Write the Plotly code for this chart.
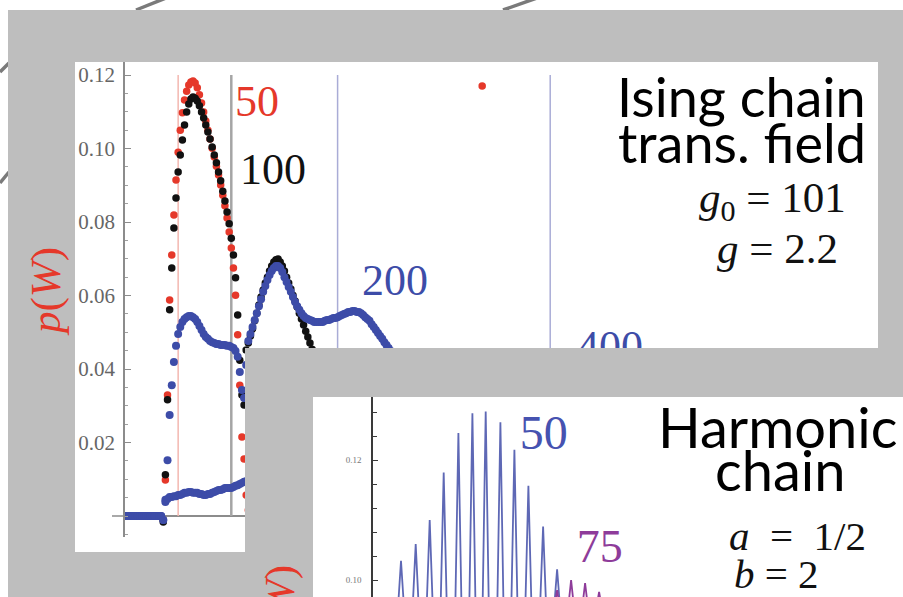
import plotly.graph_objects as go

# ---------------------------------------------------------------
# Work distribution p(W): Ising chain in a transverse field (top)
# and harmonic chain (bottom)
# ---------------------------------------------------------------

# Upper panel: W sampling points and p(W) for N = 50, 100, 200, 400
w_n50 = [36, 38, 40, 42, 44, 46, 48, 50, 52, 54, 56, 58, 60, 62, 64, 66, 68, 70,
         72, 74, 76, 78, 80, 82, 84, 86, 88, 90, 92, 94, 96, 98, 100, 102, 104,
         106, 108, 110, 112, 114, 116, 336]
p_n50 = [-0.0011, 0.0098, 0.0329, 0.0588, 0.0710, 0.0819, 0.0914, 0.0990, 0.1050,
         0.1097, 0.1132, 0.1156, 0.1173, 0.1181, 0.1184, 0.1178, 0.1165, 0.1146,
         0.1124, 0.1099, 0.1075, 0.1050, 0.1026, 0.1001, 0.0977, 0.0952, 0.0928,
         0.0901, 0.0873, 0.0844, 0.0811, 0.0773, 0.0729, 0.0675, 0.0601, 0.0493,
         0.0356, 0.0215, 0.0155, 0.0057, 0.0016, 0.1170]

w_n100 = [36, 38, 40, 42, 44, 46, 48, 50, 52, 54, 56, 58, 60, 62, 64, 66, 68, 70,
          72, 74, 76, 78, 80, 82, 84, 86, 88, 90, 92, 94, 96, 98, 100, 102, 104,
          106, 108, 110, 112, 114, 116, 118, 120, 122, 124, 126, 128, 130, 132,
          134, 136, 138, 140, 142, 144, 146, 148, 150, 152, 154, 156, 158, 160,
          162, 164, 166, 168, 170, 172, 174, 176, 178]
p_n100 = [-0.0016, 0.0112, 0.0316, 0.0561, 0.0675, 0.0784, 0.0865, 0.0936, 0.0982,
          0.1023, 0.1064, 0.1099, 0.1121, 0.1135, 0.1140, 0.1137, 0.1129, 0.1116,
          0.1099, 0.1083, 0.1064, 0.1045, 0.1026, 0.1004, 0.0982, 0.0961, 0.0936,
          0.0912, 0.0884, 0.0857, 0.0827, 0.0795, 0.0756, 0.0710, 0.0648, 0.0547,
          0.0424, 0.0329, 0.0302, 0.0452, 0.0471, 0.0490, 0.0509, 0.0531, 0.0552,
          0.0574, 0.0596, 0.0615, 0.0634, 0.0650, 0.0667, 0.0680, 0.0691, 0.0697,
          0.0699, 0.0691, 0.0680, 0.0667, 0.0650, 0.0634, 0.0618, 0.0601, 0.0585,
          0.0569, 0.0552, 0.0536, 0.0520, 0.0503, 0.0487, 0.0471, 0.0454, 0.0438]

w_n200 = [-4, -2, 0, 2, 4, 6, 8, 10, 12, 14, 16, 18, 20, 22, 24, 26, 28, 30, 32, 34,
          36, 38, 40, 42, 44, 46, 48, 50, 52, 54, 56, 58, 60, 62, 64, 66, 68, 70,
          72, 74, 76, 78, 80, 82, 84, 86, 88, 90, 92, 94, 96, 98, 100, 102, 104,
          106, 108, 110, 112, 114, 116, 118, 120, 122, 124, 126, 128, 130, 132,
          134, 136, 138, 140, 142, 144, 146, 148, 150, 152, 154, 156, 158, 160,
          162, 164, 166, 168, 170, 172, 174, 176, 178, 180, 182, 184, 186, 188,
          190, 192, 194, 196, 198, 200, 202, 204, 206, 208, 210, 212, 214, 216,
          218, 220, 222, 224, 226, 228, 230, 232, 234, 236, 238, 240, 242, 244,
          246, 248, 250, 252, 254, 256]
p_n200 = [0, 0, 0, 0, 0, 0, 0, 0, 0, 0, 0, 0, 0, 0, 0, 0, 0, 0, 0, 0,
          -0.0011, 0.0044, 0.0152, 0.0275, 0.0356, 0.0419, 0.0463, 0.0495, 0.0514,
          0.0528, 0.0536, 0.0541, 0.0544, 0.0544, 0.0541, 0.0536, 0.0528, 0.0517,
          0.0506, 0.0495, 0.0487, 0.0482, 0.0476, 0.0473, 0.0471, 0.0468, 0.0468,
          0.0465, 0.0465, 0.0465, 0.0463, 0.0463, 0.0460, 0.0457, 0.0449, 0.0433,
          0.0392, 0.0343, 0.0321, 0.0411, 0.0476, 0.0495, 0.0514, 0.0533, 0.0552,
          0.0571, 0.0590, 0.0610, 0.0626, 0.0642, 0.0656, 0.0667, 0.0675, 0.0680,
          0.0680, 0.0675, 0.0664, 0.0650, 0.0637, 0.0623, 0.0610, 0.0596, 0.0582,
          0.0571, 0.0561, 0.0552, 0.0544, 0.0539, 0.0536, 0.0533, 0.0531, 0.0528,
          0.0528, 0.0528, 0.0528, 0.0528, 0.0531, 0.0533, 0.0533, 0.0536, 0.0539,
          0.0539, 0.0541, 0.0544, 0.0547, 0.0550, 0.0552, 0.0555, 0.0555, 0.0558,
          0.0558, 0.0555, 0.0555, 0.0552, 0.0547, 0.0541, 0.0536, 0.0531, 0.0522,
          0.0514, 0.0506, 0.0498, 0.0490, 0.0482, 0.0473, 0.0465, 0.0457, 0.0449,
          0.0441, 0.0433, 0.0424]

w_n400 = [-4, -2, 0, 2, 4, 6, 8, 10, 12, 14, 16, 18, 20, 22, 24, 26, 28, 30, 32, 34,
          36, 38, 40, 42, 44, 46, 48, 50, 52, 54, 56, 58, 60, 62, 64, 66, 68, 70,
          72, 74, 76, 78, 80, 82, 84, 86, 88, 90, 92, 94, 96, 98, 100, 102, 104,
          106, 108, 110, 112, 114]
p_n400 = [0, 0, 0, 0, 0, 0, 0, 0, 0, 0, 0, 0, 0, 0, 0, 0, 0, 0, 0, 0,
          -0.0011, 0.0038, 0.0046, 0.0052, 0.0052, 0.0054, 0.0054, 0.0057, 0.0057,
          0.0060, 0.0063, 0.0063, 0.0065, 0.0065, 0.0063, 0.0063, 0.0063, 0.0060,
          0.0060, 0.0057, 0.0057, 0.0060, 0.0060, 0.0063, 0.0065, 0.0068, 0.0071,
          0.0071, 0.0073, 0.0076, 0.0076, 0.0076, 0.0076, 0.0079, 0.0082, 0.0084,
          0.0087, 0.0090, 0.0093, 0.0095]

# Chain lengths (also the W position of each reference line)
chain_sizes = [50, 100, 200, 400]
upper_yticks = [0.02, 0.04, 0.06, 0.08, 0.10, 0.12]
upper_yticktext = ["0.02", "0.04", "0.06", "0.08", "0.10", "0.12"]

# Lower panel: positions and heights of the delta-like peaks
harm_w50 = [4.0, 6.1, 8.1, 10.1, 12.2, 14.2, 16.1, 18.2, 20.2, 22.2, 24.3, 26.3]
harm_p50 = [0.1032, 0.1060, 0.1100, 0.1179, 0.1245, 0.1278, 0.1281, 0.1263,
            0.1217, 0.1157, 0.1089, 0.1018]
harm_w75 = [26.3, 28.3, 30.3, 32.3]
harm_p75 = [0.0983, 0.1000, 0.0995, 0.0980]
lower_yticks = [0.10, 0.12]
lower_yticktext = ["0.10", "0.12"]

assert len(w_n50) == len(p_n50)
assert len(w_n100) == len(p_n100)
assert len(w_n200) == len(p_n200)
assert len(w_n400) == len(p_n400)

# ---------------------------------------------------------------
RED = "#e5382a"
BLACK = "#111111"
BLUE = "#3d4ca8"
PURPLE = "#8e3c9a"
FRAME = "#bebebe"
AXIS = "#8c8c8c"
SERIF = "Liberation Serif"
SANS = "Lato"

FIG_W, FIG_H = 903, 597


def fx(px):
    return px / FIG_W


def fy(py):
    return 1 - py / FIG_H


# pixel geometry of the upper panel: p = 0 at y=516, 3675 px per unit p
def pv(py):
    return (516 - py) / 3675.0


W_PX = 1.063  # pixels per unit W in the upper panel

fig = go.Figure()

# the upper panel is split in two clip regions sharing the same scales:
# "x/y"   -> narrow strip left of the inset (full height)
# "x2/y2" -> top band above the inset
upper_axes = [("x", "y"), ("x2", "y2")]

line_styles = {50: ("#f3b7b0", 1.5), 100: ("#a5a5a5", 2.5),
               200: ("#a9acd6", 1.5), 400: ("#a9acd6", 1.5)}

for xa, ya in upper_axes:
    for n in chain_sizes:
        col, lw = line_styles[n]
        fig.add_trace(go.Scatter(x=[n, n], y=[0, 0.12], mode="lines",
                                 line=dict(color=col, width=lw),
                                 xaxis=xa, yaxis=ya, hoverinfo="skip"))
    fig.add_trace(go.Scatter(x=w_n50, y=p_n50, mode="markers",
                             marker=dict(color=RED, size=7.5),
                             xaxis=xa, yaxis=ya, name="N=50"))
    fig.add_trace(go.Scatter(x=w_n100, y=p_n100, mode="markers",
                             marker=dict(color=BLACK, size=7.5),
                             xaxis=xa, yaxis=ya, name="N=100"))
    fig.add_trace(go.Scatter(x=w_n400, y=p_n400, mode="markers",
                             marker=dict(color=BLUE, size=8),
                             xaxis=xa, yaxis=ya, name="N=400"))
    fig.add_trace(go.Scatter(x=w_n200, y=p_n200, mode="markers",
                             marker=dict(color=BLUE, size=8),
                             xaxis=xa, yaxis=ya, name="N=200"))

# curve labels (top band; "400" is partly hidden under the inset)
upper_labels = [("50", 124.2, 0.1118, RED), ("100", 139.2, 0.0933, BLACK),
                ("200", 254.0, 0.0632, BLUE), ("400", 456.3, 0.0451, BLUE)]
for txt, lx, ly, col in upper_labels:
    fig.add_trace(go.Scatter(x=[lx], y=[ly], mode="text", text=[txt],
                             textposition="middle center",
                             textfont=dict(family=SERIF, size=44, color=col),
                             xaxis="x2", yaxis="y2", hoverinfo="skip"))

# lower panel: narrow peaks of the harmonic chain
def spikes(ws, ps, base=0.095, half=0.45):
    xs, ys = [], []
    for w, p in zip(ws, ps):
        xs += [w - half, w, w + half, None]
        ys += [base, p, base, None]
    return xs, ys


sx, sy = spikes(harm_w50, harm_p50)
fig.add_trace(go.Scatter(x=sx, y=sy, mode="lines",
                         line=dict(color="rgba(66,78,168,0.85)", width=1.8),
                         xaxis="x3", yaxis="y3", name="N=50"))
sx, sy = spikes(harm_w75, harm_p75)
fig.add_trace(go.Scatter(x=sx, y=sy, mode="lines",
                         line=dict(color=PURPLE, width=1.8),
                         xaxis="x3", yaxis="y3", name="N=75"))
fig.add_trace(go.Scatter(x=[24.4], y=[0.1238], mode="text", text=["50"],
                         textfont=dict(family=SERIF, size=48, color="#4652b0"),
                         xaxis="x3", yaxis="y3", hoverinfo="skip"))
fig.add_trace(go.Scatter(x=[32.4], y=[0.1050], mode="text", text=["75"],
                         textfont=dict(family=SERIF, size=46, color=PURPLE),
                         xaxis="x3", yaxis="y3", hoverinfo="skip"))

# ---------------------------------------------------------------
hidden_x = dict(visible=False)
upper_y_common = dict(
    showline=True, linecolor=AXIS, linewidth=1.5, showgrid=False,
    ticks="inside", ticklen=6, tickwidth=1.2, tickcolor=AXIS,
    tickmode="array", tickvals=upper_yticks, ticktext=upper_yticktext,
    tickfont=dict(family=SERIF, size=21, color="#666666"),
    ticklabelstandoff=4,
    minor=dict(dtick=0.005, tick0=0, ticks="inside", ticklen=3.5,
               tickcolor="#a0a0a0", showgrid=False),
)

fig.update_layout(
    width=FIG_W, height=FIG_H,
    margin=dict(l=0, r=0, t=0, b=0),
    paper_bgcolor="white", plot_bgcolor="rgba(0,0,0,0)",
    showlegend=False,
    xaxis=dict(hidden_x, domain=[fx(125), fx(245)],
               range=[0, (245 - 125) / W_PX]),
    yaxis=dict(upper_y_common, domain=[fy(537), fy(348)],
               range=[pv(537), pv(348)], anchor="x",
               zeroline=True, zerolinecolor=AXIS, zerolinewidth=1.5),
    xaxis2=dict(hidden_x, domain=[fx(125), fx(878)],
                range=[0, (878 - 125) / W_PX], anchor="y2"),
    yaxis2=dict(upper_y_common, domain=[fy(348), fy(62)],
                range=[pv(348), pv(62)], anchor="x2", zeroline=False),
    xaxis3=dict(hidden_x, domain=[fx(373), 1], range=[0, 530 / 7.0],
                anchor="y3"),
    yaxis3=dict(domain=[0, fy(397)],
                range=[0.12 - 137 / 6000.0, 0.12 + 63 / 6000.0], anchor="x3",
                showline=True, linecolor="#3a3a3a", linewidth=1.6,
                showgrid=False, zeroline=False,
                ticks="inside", ticklen=5, tickcolor="#3a3a3a",
                tickmode="array", tickvals=lower_yticks,
                ticktext=lower_yticktext,
                tickfont=dict(family=SERIF, size=9, color="#777777"),
                ticklabelstandoff=8,
                minor=dict(dtick=0.004, tick0=0.1, ticks="inside", ticklen=4,
                           tickcolor="#3a3a3a", showgrid=False)),
)

# ---------------------------------------------------------------
# frame: decorative strokes, grey mat and the two white panels
shapes = []
for (x0, y0, x1, y1) in [(0, 72, 9, 63), (0, 183, 9, 172),
                         (136, 10, 166, -2), (503, 10, 537, -2)]:
    shapes.append(dict(type="line", xref="paper", yref="paper", layer="below",
                       x0=fx(x0), y0=fy(y0), x1=fx(x1), y1=fy(y1),
                       line=dict(color="#7a7a7a", width=3.5)))
shapes.append(dict(type="rect", xref="paper", yref="paper", layer="below",
                   x0=fx(8), y0=fy(10), x1=1.0, y1=0.0,
                   fillcolor=FRAME, line=dict(width=0)))
for (x0, y0, x1, y1) in [(75, 62, 878, 348), (75, 348, 245, 552),
                         (313, 397, 903, 597)]:
    shapes.append(dict(type="rect", xref="paper", yref="paper", layer="below",
                       x0=fx(x0), y0=fy(y0), x1=fx(x1), y1=fy(y1),
                       fillcolor="white", line=dict(width=0)))
# short stub of the W axis left of the p axis
shapes.append(dict(type="line", xref="paper", yref="y", layer="below",
                   x0=fx(112), x1=fx(125), y0=0, y1=0,
                   line=dict(color=AXIS, width=1.5)))
fig.update_layout(shapes=shapes)

# ---------------------------------------------------------------
annotations = [
    dict(text="Ising chain", x=fx(868), y=fy(96), xanchor="right",
         font=dict(family=SANS, size=54, color="black")),
    dict(text="trans. field", x=fx(868), y=fy(142), xanchor="right",
         font=dict(family=SANS, size=54, color="black")),
    dict(text="<i>g</i><sub>0</sub>&nbsp;= 101", x=fx(697), y=fy(201),
         xanchor="left", font=dict(family=SERIF, size=43, color="#111111")),
    dict(text="<i>g</i>&nbsp;= 2.2", x=fx(715), y=fy(248), xanchor="left",
         font=dict(family=SERIF, size=43, color="#111111")),
    dict(text="Harmonic", x=fx(777), y=fy(426), xanchor="center",
         font=dict(family=SANS, size=56, color="black")),
    dict(text="chain", x=fx(780), y=fy(469), xanchor="center",
         font=dict(family=SANS, size=56, color="black")),
    dict(text="<i>a</i>&nbsp; =&nbsp; 1/2", x=fx(727), y=fy(536),
         xanchor="left", font=dict(family=SERIF, size=41, color="#111111")),
    dict(text="<i>b</i>&nbsp;= 2", x=fx(732), y=fy(574),
         xanchor="left", font=dict(family=SERIF, size=41, color="#111111")),
    dict(text="<i>p</i>(<i>W</i>)", x=fx(46), y=fy(292), textangle=-90,
         xanchor="center", font=dict(family=SERIF, size=43, color=RED)),
    dict(text="<i>p</i>(<i>W</i>)", x=fx(280), y=fy(610), textangle=-90,
         xanchor="center", font=dict(family=SERIF, size=43, color=RED)),
]
for a in annotations:
    a.update(xref="paper", yref="paper", showarrow=False, yanchor="middle")
fig.update_layout(annotations=annotations)

fig.write_html("out.html")
